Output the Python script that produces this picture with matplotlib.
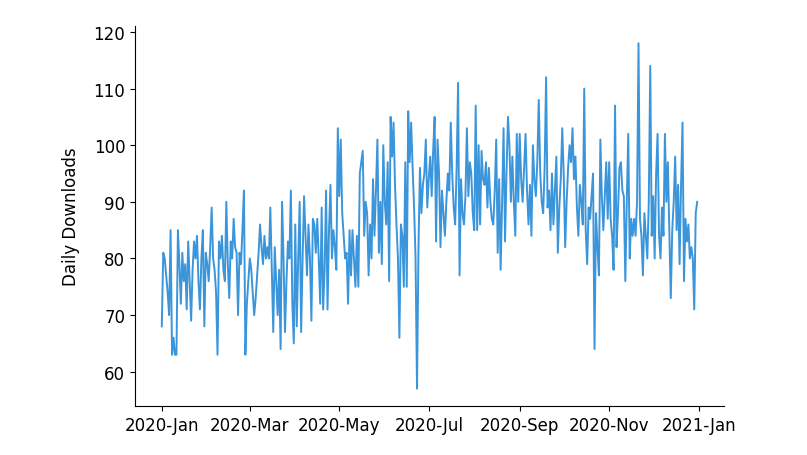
import numpy as np
import pandas as pd
import matplotlib
matplotlib.use("Agg")
import matplotlib.pyplot as plt
import matplotlib.dates as mdates

jan = [68, 81, 80, 77, 74, 70, 85, 63, 66, 63, 63, 85, 79, 72, 81, 76, 79, 71, 83, 76,
       69, 78, 83, 80, 84, 76, 71, 80, 85, 68, 81]
feb = [79, 76, 82, 89, 80, 78, 74, 63, 83, 80, 84, 78, 76, 90, 79, 73, 83, 80, 87, 82,
       81, 70, 81, 79, 85, 92, 63, 72, 76]
mar = [80, 78, 74, 70, 73, 77, 81, 86, 82, 79, 84, 80, 82, 80, 89, 78, 67, 82, 76, 70,
       78, 64, 90, 80, 67, 76, 83, 80, 92, 72, 65]
apr = [86, 68, 80, 90, 67, 80, 91, 84, 77, 86, 80, 69, 87, 86, 81, 87, 80, 72, 89, 71,
       78, 92, 71, 85, 93, 80, 85, 82, 78, 103]
may = [91, 101, 88, 84, 80, 81, 72, 85, 77, 85, 80, 75, 84, 75, 95, 97, 99, 84, 90, 88,
       77, 86, 80, 94, 84, 92, 101, 81, 90, 79, 100]
jun = [90, 86, 97, 76, 105, 98, 104, 93, 86, 80, 66, 86, 84, 75, 97, 75, 106, 97, 104, 96,
       89, 80, 57, 82, 96, 88, 93, 95, 101, 89]
jul = [94, 98, 91, 99, 105, 83, 101, 95, 82, 92, 88, 84, 90, 95, 92, 104, 95, 89, 86, 96,
       111, 77, 94, 88, 86, 91, 103, 91, 97, 95, 88]
aug = [85, 107, 85, 100, 86, 99, 94, 93, 97, 89, 96, 90, 87, 86, 92, 101, 81, 94, 78, 90,
       103, 83, 95, 105, 100, 90, 98, 90, 84, 102, 90]
sep = [102, 94, 90, 96, 102, 92, 86, 93, 84, 100, 94, 91, 97, 108, 95, 90, 88, 96, 112, 89,
       92, 85, 95, 86, 92, 98, 81, 89, 94, 103]
oct_ = [95, 82, 90, 96, 100, 97, 103, 94, 98, 89, 84, 93, 90, 86, 110, 85, 79, 89, 87, 91,
        95, 64, 88, 82, 77, 101, 91, 85, 91, 97, 87]
nov = [97, 87, 84, 78, 107, 82, 88, 96, 97, 92, 91, 76, 90, 102, 80, 87, 84, 87, 84, 90,
       118, 87, 84, 77, 88, 84, 80, 90, 114, 84]
dec = [91, 80, 95, 102, 84, 80, 89, 84, 102, 90, 97, 85, 73, 85, 90, 98, 85, 93, 79, 93,
       104, 76, 87, 83, 86, 80, 82, 80, 71, 88, 90]

downloads = jan + feb + mar + apr + may + jun + jul + aug + sep + oct_ + nov + dec
dates = pd.date_range("2020-01-01", periods=len(downloads), freq="D")

y_ticks = [60, 70, 80, 90, 100, 110, 120]
y_label = "Daily Downloads"

plt.rcParams["font.family"] = ["DejaVu Sans"]
fig = plt.figure(figsize=(8.07, 4.56), dpi=100)
ax = fig.add_axes([0.1673, 0.1075, 0.7298, 0.8333])
ax.plot(dates, downloads, color="#3b95da", linewidth=1.4)

ax.spines["top"].set_visible(False)
ax.spines["right"].set_visible(False)
ax.xaxis.set_major_locator(mdates.MonthLocator(bymonth=[1, 3, 5, 7, 9, 11]))
ax.xaxis.set_major_formatter(mdates.DateFormatter("%Y-%b"))
ax.set_yticks(y_ticks)
ax.tick_params(labelsize=12)
ax.set_ylabel(y_label, fontsize=12, labelpad=10)

fig.savefig("out.png", dpi=100)
